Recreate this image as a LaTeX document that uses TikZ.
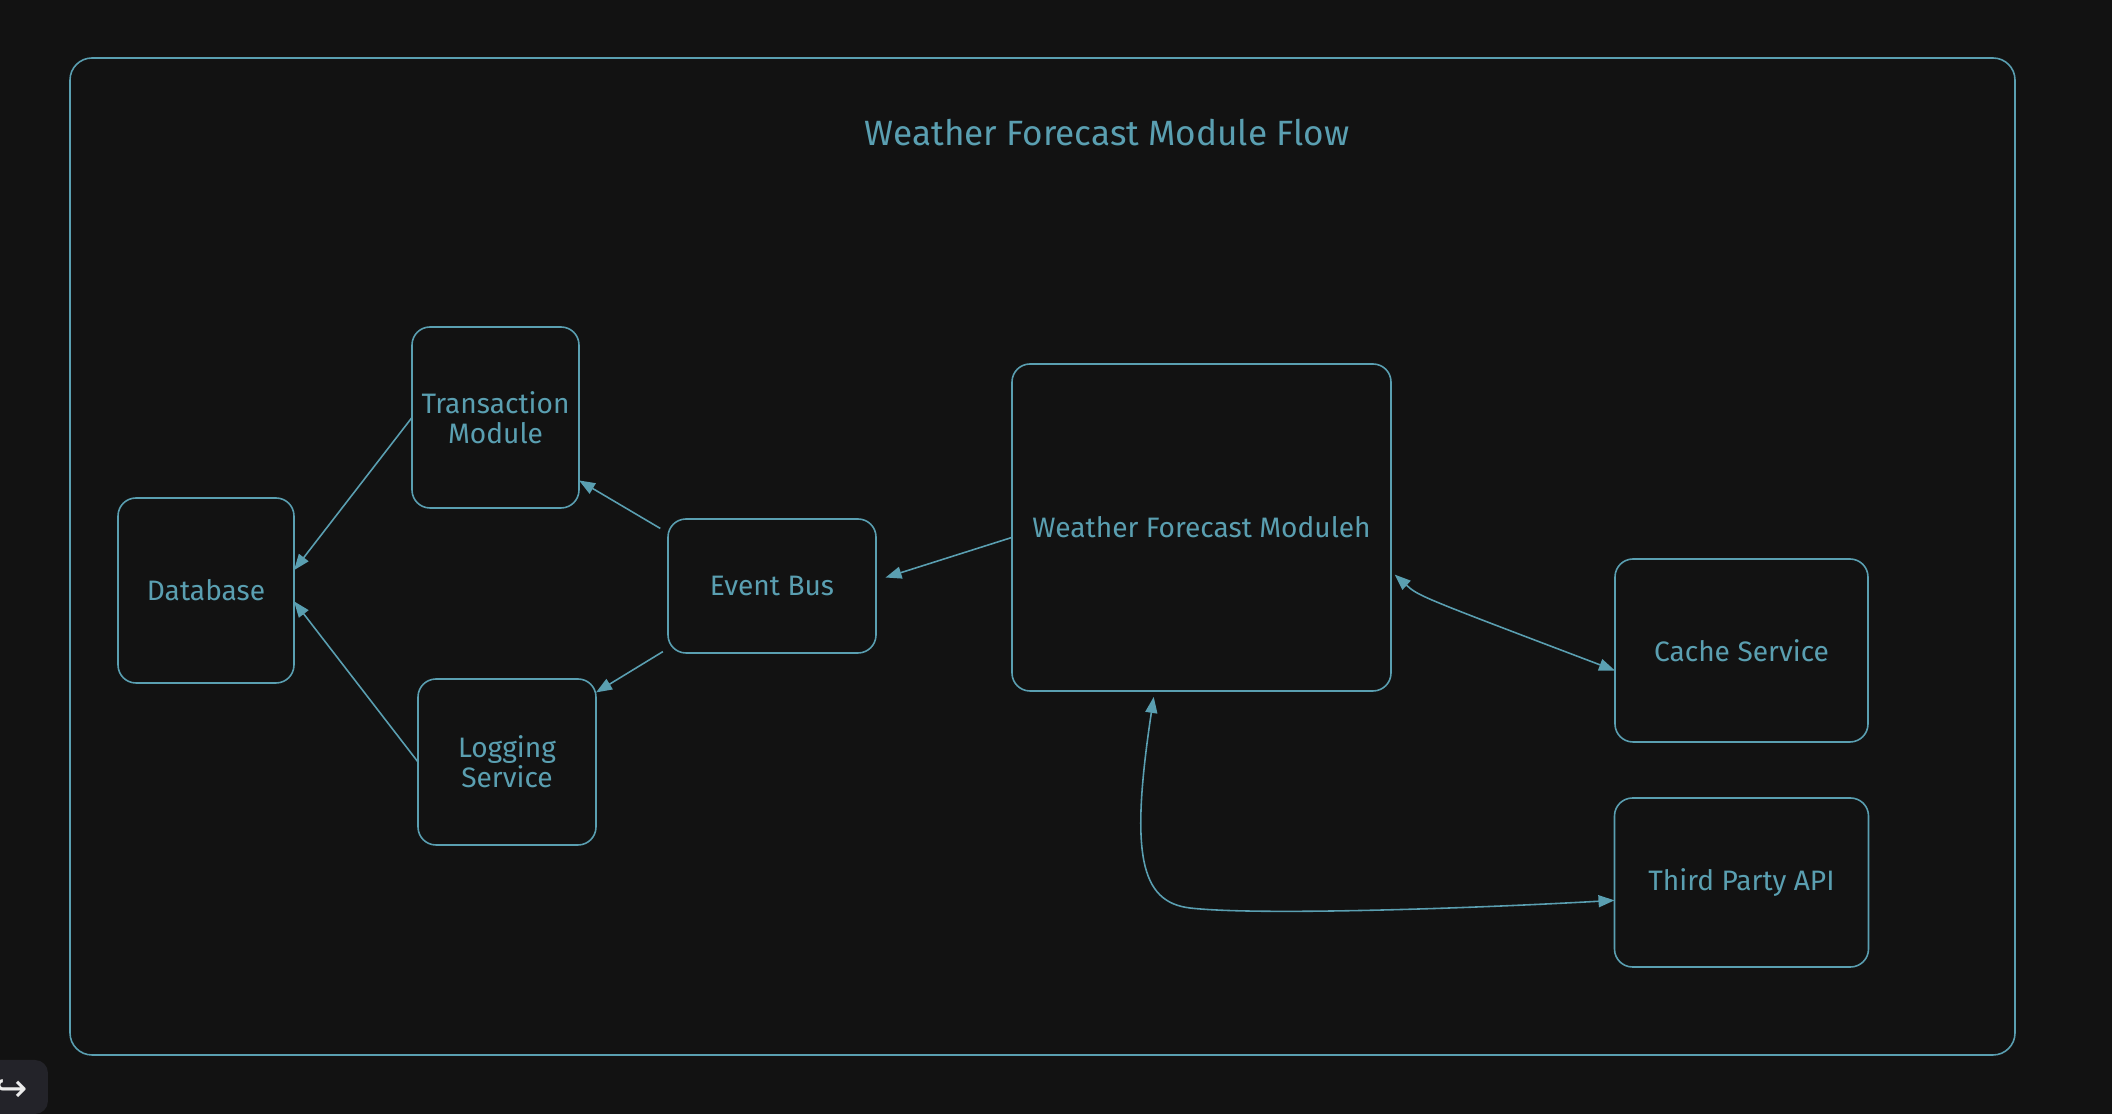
\documentclass[tikz,border=0pt]{standalone}
\usepackage{fontspec}
\setmainfont{Fira Sans}
\newfontfamily\symfont{DejaVu Sans}
\usetikzlibrary{arrows.meta, positioning}
\definecolor{bgdark}{HTML}{121212}
\definecolor{sketch}{HTML}{5A9FB1}
\definecolor{btngray}{HTML}{232329}
\tikzstyle{box} = [rectangle, rounded corners=0.18cm, draw=sketch, line width=0.45pt, text=sketch, align=center, inner sep=0pt, outer sep=0pt, font=\fontsize{8}{8.6}\selectfont]
\tikzstyle{arrow} = [draw=sketch, line width=0.45pt, -{Triangle[length=0.16cm,width=0.12cm]}]
\tikzstyle{twoway} = [draw=sketch, line width=0.45pt, {Triangle[length=0.16cm,width=0.12cm]}-{Triangle[length=0.16cm,width=0.12cm]}]

\begin{document}
\begin{tikzpicture}[node distance=2cm]

\fill[bgdark] (0,0) rectangle (21.12,11.14);
\useasboundingbox (0,0) rectangle (21.12,11.14);

% frame and title
\draw[sketch, line width=0.45pt, rounded corners=0.22cm] (0.70,0.59) rectangle (20.15,10.56);
\node (title) [text=sketch, font=\fontsize{10}{12}\selectfont] at (11.07,9.81) {Weather Forecast Module Flow};

\node (db) [box, minimum width=1.76cm, minimum height=1.85cm] at (2.06,5.235) {Database};
\node (trans) [box, minimum width=1.67cm, minimum height=1.81cm, right of=db, xshift=0.895cm, yshift=1.73cm] {Transaction\\Module};
\node (logsvc) [box, minimum width=1.78cm, minimum height=1.66cm, right of=db, xshift=1.01cm, yshift=-1.715cm] {Logging\\Service};
\node (bus) [box, minimum width=2.08cm, minimum height=1.34cm, right of=db, xshift=3.66cm, yshift=0.045cm] {Event Bus};
\node (wfm) [box, minimum width=3.79cm, minimum height=3.27cm, right of=bus, xshift=2.295cm, yshift=0.585cm] {Weather Forecast Moduleh};
\node (cache) [box, minimum width=2.53cm, minimum height=1.83cm, right of=wfm, xshift=3.4cm, yshift=-1.23cm] {Cache Service};
\node (api) [box, minimum width=2.54cm, minimum height=1.69cm, below of=cache, yshift=-0.32cm] {Third Party API};

\draw [arrow] (trans.west) -- (db.13);
\draw [arrow] (logsvc.west) -- (db.-7);
\draw [arrow, shorten <=0.09cm] (bus.153) -- (trans.-37);
\draw [arrow, shorten <=0.06cm] (bus.211) -- (logsvc.38);
\draw [arrow, shorten >=0.1cm] (wfm.183) -- (bus.3);
\draw [twoway, shorten <=0.05cm] (wfm.-13) .. controls +(-42:0.37) .. (cache.189);
\draw [twoway, shorten <=0.06cm] (wfm.254) .. controls (11.30,2.6) and (11.4,2.12) .. (11.9,2.06)
  .. controls (12.6,1.98) and (14.8,2.06) .. (api.188);

% redo button
\fill[btngray] (0,0) -- (0,0.54) {[rounded corners=0.13cm] -- (0.48,0.54) -- (0.48,0)} -- cycle;
\node (redo) [text=white!85!gray, font=\symfont\fontsize{11}{11}\selectfont] at (0.12,0.23) {↪};

\end{tikzpicture}
\end{document}
